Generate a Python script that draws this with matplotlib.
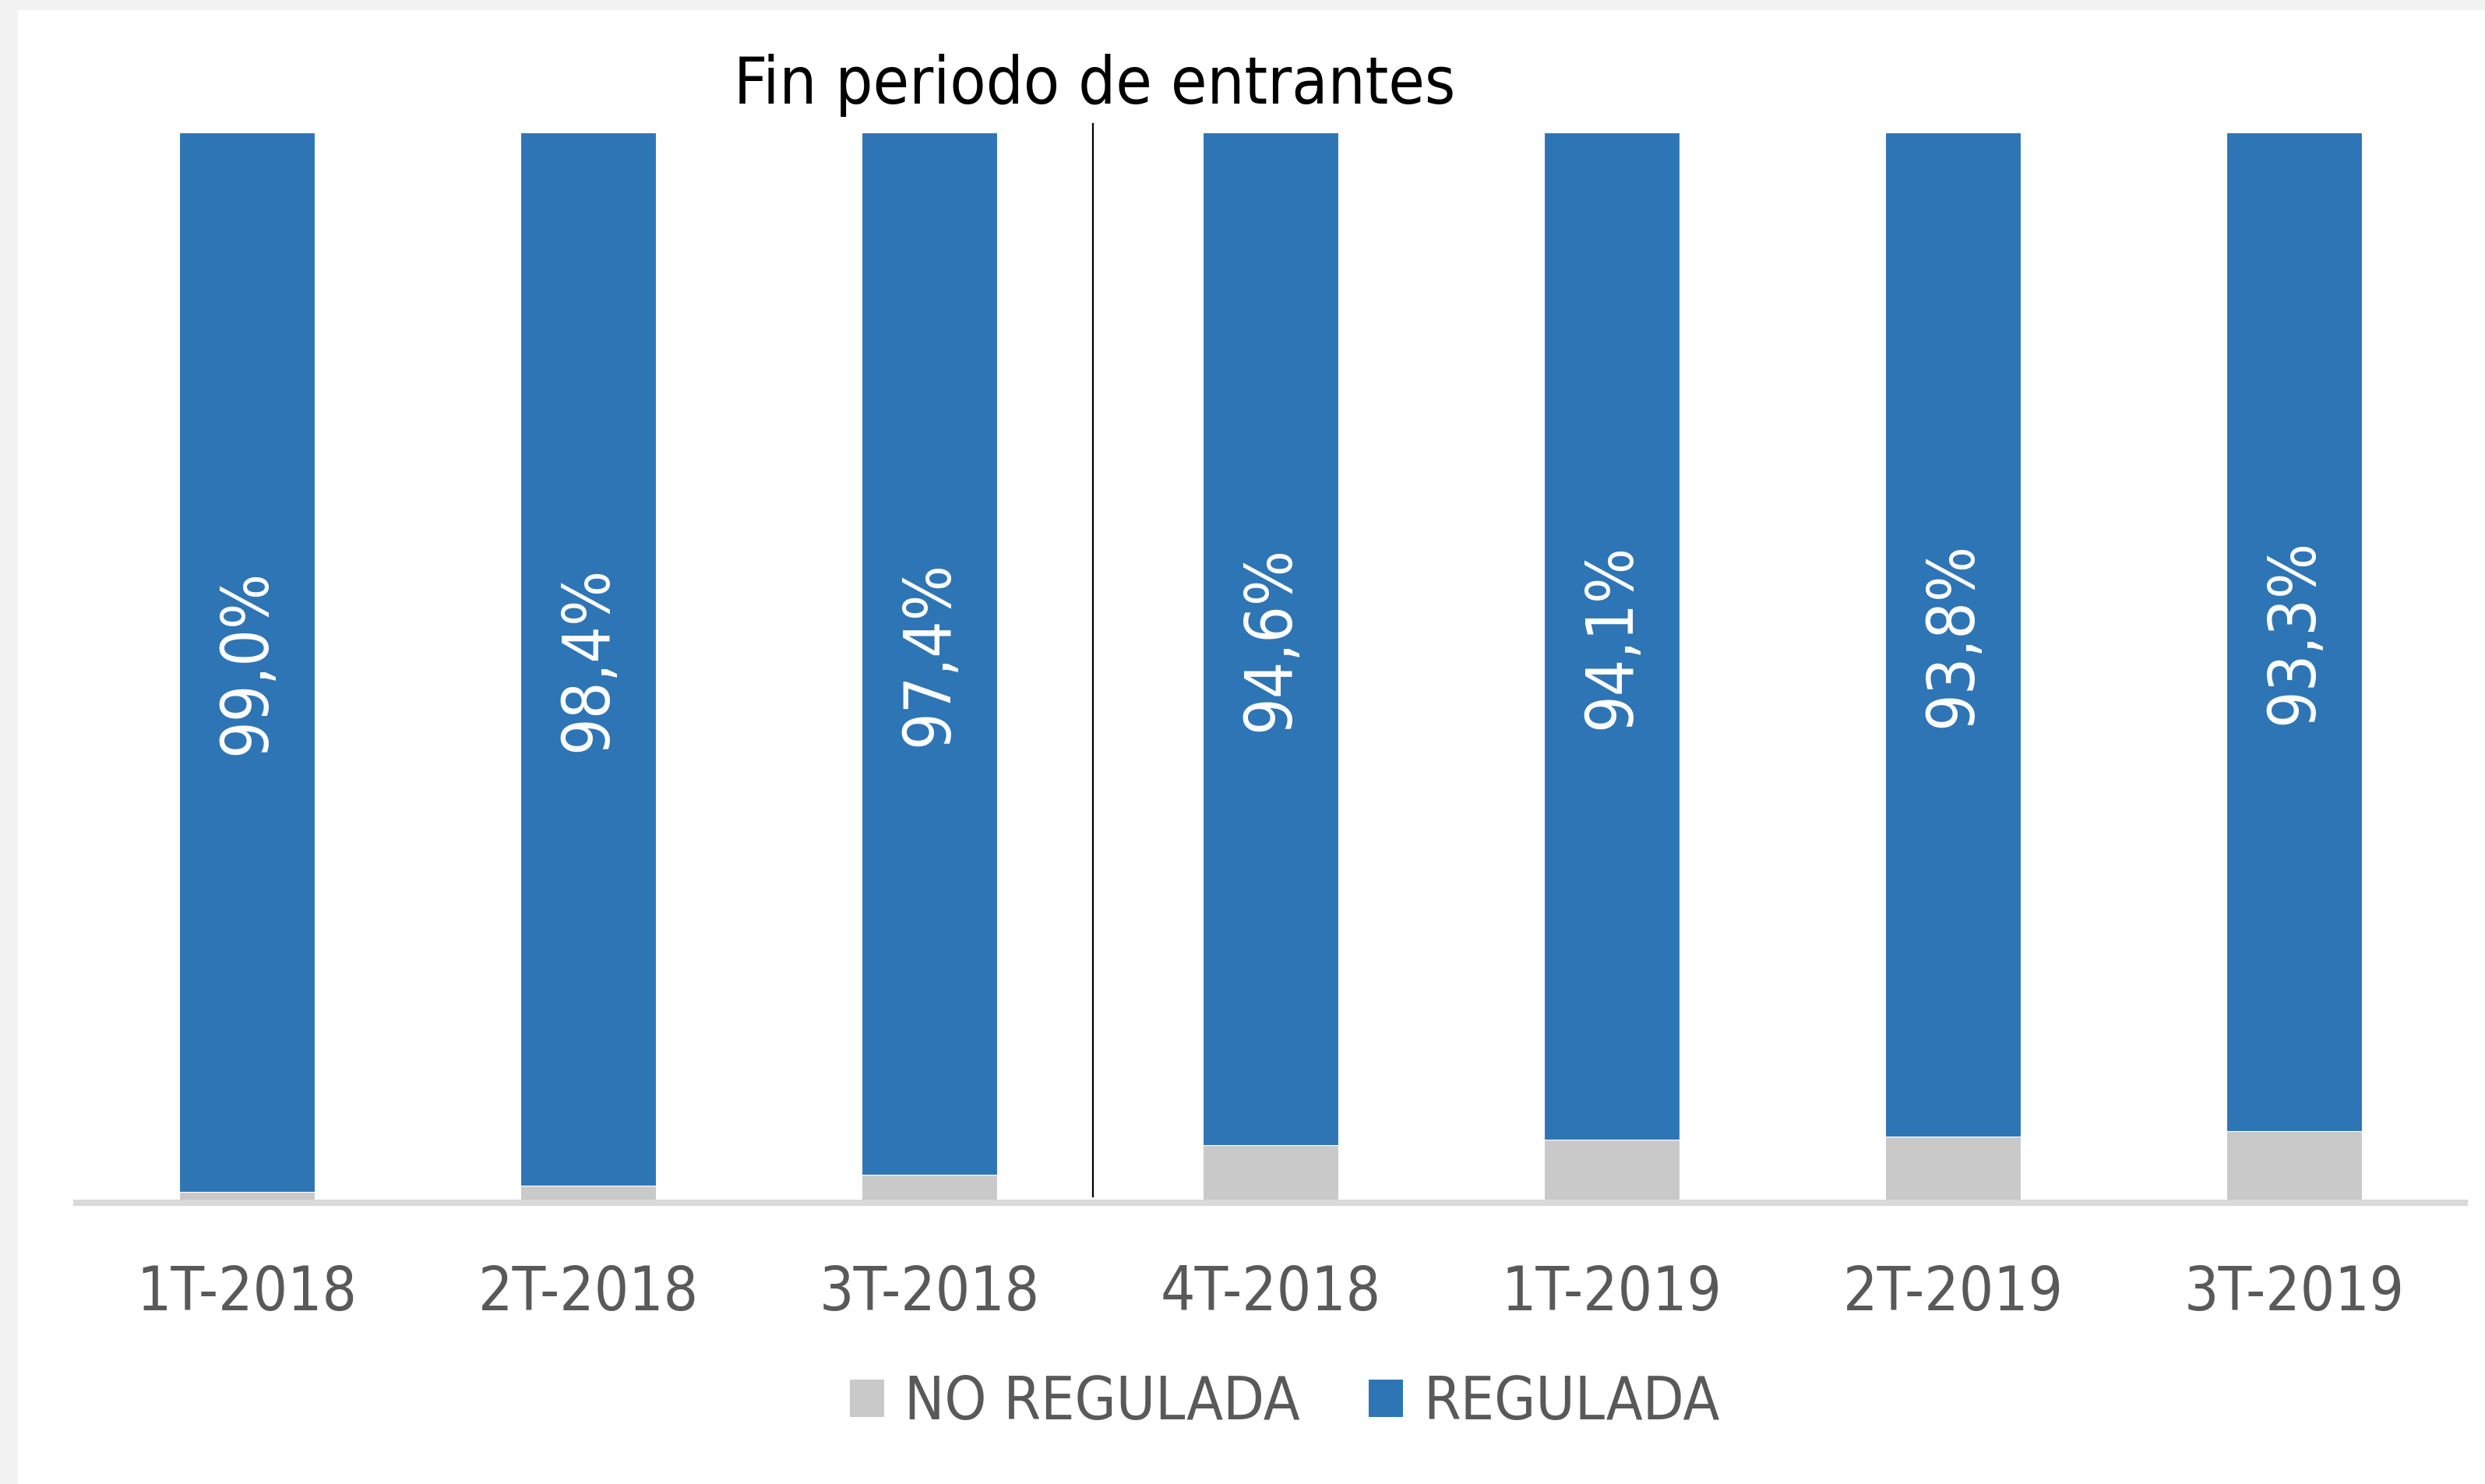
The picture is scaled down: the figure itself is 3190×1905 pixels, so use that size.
import matplotlib
matplotlib.use("Agg")
import matplotlib.pyplot as plt
from matplotlib.patches import Patch, Rectangle

plt.rcParams['font.family'] = ['DejaVu Sans']
plt.rcParams['font.stretch'] = 'condensed'

# datos (% sobre el total)
trimestres = ['1T-2018', '2T-2018', '3T-2018', '4T-2018', '1T-2019', '2T-2019', '3T-2019']
regulada = [99.0, 98.4, 97.4, 94.6, 94.1, 93.8, 93.3]
no_regulada = [100 - v for v in regulada]

fin_entrantes = 2.48  # separador entre 3T-2018 y 4T-2018
titulo = 'Fin periodo de entrantes'

AZUL = '#2E75B6'
GRIS = '#C9C9C9'
TXT = '#595959'

fig = plt.figure(figsize=(15.95, 9.525), dpi=200, facecolor='#F2F2F2')
fig.patches.append(Rectangle((23 / 3190, 0), 1, 1 - 13 / 1905, transform=fig.transFigure,
                             facecolor='white', edgecolor='none', zorder=-10))

ax = fig.add_axes([98 / 3190, 361 / 1905, 3066 / 3190, 1374 / 1905])
ax.set_facecolor('none')
ax.set_zorder(1)

x = range(len(trimestres))
ax.bar(x, no_regulada, width=0.395, color=GRIS, edgecolor='white', linewidth=0.4, label='NO REGULADA')
ax.bar(x, regulada, width=0.395, bottom=no_regulada, color=AZUL, edgecolor='white', linewidth=0.4,
       label='REGULADA')

for i, (nr, r) in enumerate(zip(no_regulada, regulada)):
    ax.text(i, nr + r / 2, f"{r:.1f}".replace('.', ',') + '%', rotation=90,
            ha='center', va='center', color='white', fontsize=30)

ax.plot([fin_entrantes, fin_entrantes], [0.6, 100.8], color='black', lw=0.8, clip_on=False)

ax.set_xlim(-0.5, len(trimestres) - 0.5)
ax.set_ylim(0, 100)
ax.set_yticks([])
ax.set_xticks(list(x))
ax.set_xticklabels(trimestres, fontsize=28, color=TXT, va='baseline')
ax.tick_params(axis='x', length=0, pad=49.7)
for s in ['top', 'left', 'right']:
    ax.spines[s].set_visible(False)
ax.spines['bottom'].set_color('#D9D9D9')
ax.spines['bottom'].set_linewidth(2.9)

fig.text(1405 / 3190, 1 - 133 / 1905, titulo, ha='center', va='baseline', fontsize=30.3, color='black')

handles = [Patch(facecolor=GRIS), Patch(facecolor=AZUL)]
leg = fig.legend(handles, ['NO REGULADA', 'REGULADA'], loc='center',
                 bbox_to_anchor=(1649 / 3190, 104 / 1905), ncol=2, frameon=False,
                 fontsize=27.5, handlelength=0.58, handleheight=0.58, handletextpad=0.34,
                 columnspacing=1.15)
for t in leg.get_texts():
    t.set_color(TXT)

plt.savefig('out.png', dpi=200, facecolor=fig.get_facecolor())
